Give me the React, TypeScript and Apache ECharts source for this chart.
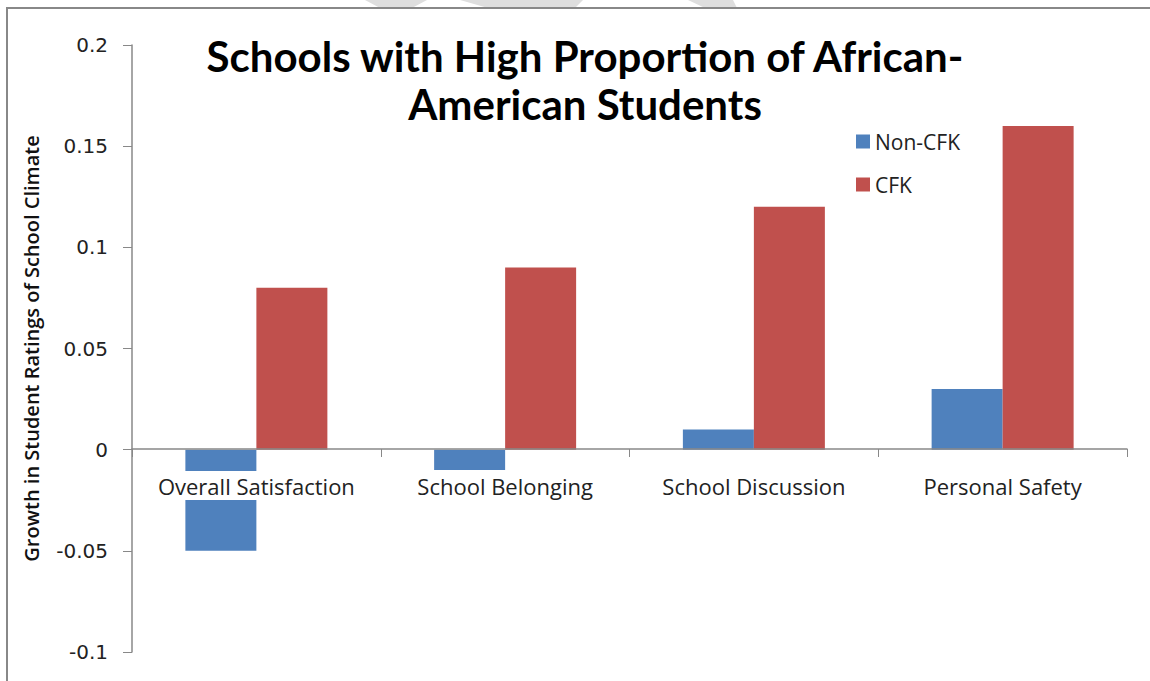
import React, { useEffect, useRef } from "react";
import * as echarts from "echarts";

const categories = ["Overall Satisfaction", "School Belonging", "School Discussion", "Personal Safety"];
const nonCfk = [-0.05, -0.01, 0.01, 0.03];
const cfk = [0.08, 0.09, 0.12, 0.16];
const seriesNames = ["Non-CFK", "CFK"];
const titleText = "Schools with High Proportion of African-\nAmerican Students";
const yAxisName = "Growth in Student Ratings of School Climate";

export default function App() {
  const ref = useRef<HTMLDivElement>(null);
  useEffect(() => {
    if (!ref.current) return;
    const chart = echarts.init(ref.current, null, { renderer: "svg" });
    chart.setOption({
      animation: false,
      backgroundColor: "#ffffff",
      grid: { left: 132, right: 23, top: 45, bottom: 29, containLabel: false, outerBoundsMode: "none" },
      legend: {
        orient: "vertical",
        left: 851,
        top: 126,
        itemWidth: 14,
        itemHeight: 14,
        itemGap: 22,
        icon: "rect",
        data: seriesNames,
        textStyle: { fontFamily: "Open Sans", fontSize: 21, color: "#222", lineHeight: 21 },
      },
      xAxis: {
        type: "category",
        data: categories,
        z: 5,
        offset: -203,
        axisLine: { onZero: false, lineStyle: { color: "#888", width: 1.5 } },
        axisTick: { show: true, alignWithLabel: false, length: 8, lineStyle: { color: "#888" } },
        axisLabel: {
          interval: 0,
          margin: 22,
          fontFamily: "Open Sans",
          fontSize: 22,
          color: "#222",
          backgroundColor: "#ffffff",
          lineHeight: 29,
          padding: [0, 4],
        },
      },
      yAxis: {
        type: "value",
        min: -0.1,
        max: 0.2,
        interval: 0.05,
        name: yAxisName,
        nameLocation: "middle",
        nameGap: 91,
        nameRotate: 90,
        nameTextStyle: { fontFamily: "Open Sans", fontWeight: 600, fontSize: 20, color: "#111" },
        splitLine: { show: false },
        axisLine: { show: true, lineStyle: { color: "#888", width: 1.5 } },
        axisTick: { show: true, length: 9, lineStyle: { color: "#888" } },
        axisLabel: {
          margin: 24,
          fontFamily: "DejaVu Sans",
          fontSize: 20,
          color: "#222",
          formatter: (v: number) => String(Math.round(v * 100) / 100),
        },
      },
      series: [
        {
          name: seriesNames[0],
          type: "bar",
          data: nonCfk,
          barWidth: 71,
          barGap: "0%",
          itemStyle: { color: "#4F81BD" },
        },
        {
          name: seriesNames[1],
          type: "bar",
          data: cfk,
          barWidth: 71,
          barGap: "0%",
          itemStyle: { color: "#C0504D" },
        },
      ],
      graphic: [
        { type: "polygon", shape: { points: [[365, 0], [427, 0], [412, 8], [380, 8]] }, style: { fill: "#dedede" }, silent: true },
        { type: "polygon", shape: { points: [[460, 0], [583, 0], [575, 8], [488, 8]] }, style: { fill: "#dedede" }, silent: true },
        { type: "polygon", shape: { points: [[688, 0], [733, 0], [737, 8], [705, 8]] }, style: { fill: "#dedede" }, silent: true },
        {
          type: "rect",
          shape: { x: 7, y: 8, width: 2000, height: 2000 },
          style: { fill: "none", stroke: "#888", lineWidth: 2 },
          silent: true,
        },
        {
          type: "text",
          x: 585,
          y: 32,
          style: {
            text: titleText,
            fontFamily: "Lato",
            fontWeight: "bold",
            fontSize: 42,
            lineHeight: 48,
            fill: "#000",
            textAlign: "center",
            textVerticalAlign: "top",
          },
        },
      ],
    });
    return () => chart.dispose();
  }, []);
  return <div ref={ref} style={{ position: "absolute", left: 0, top: 0, width: 1150, height: 681 }} />;
}
